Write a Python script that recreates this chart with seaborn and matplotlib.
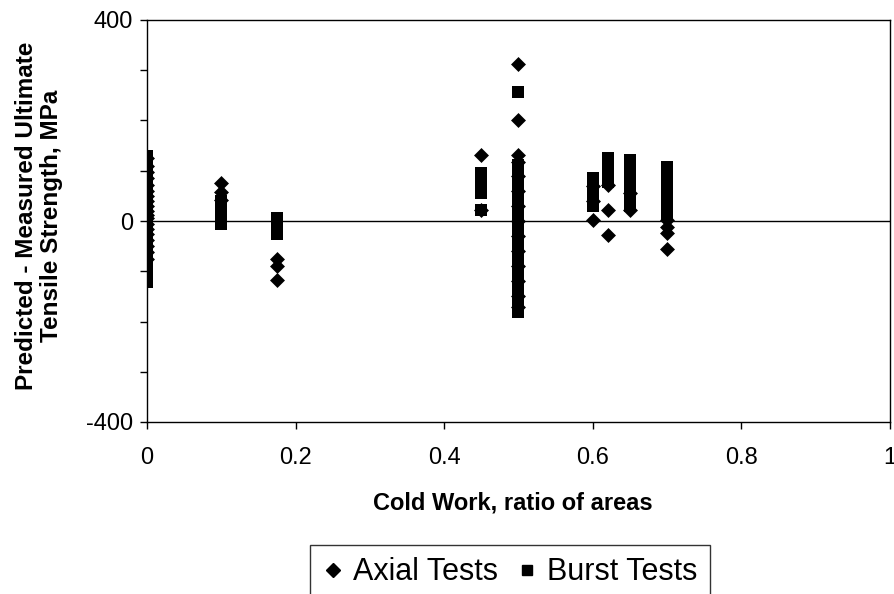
import numpy as np
import pandas as pd
import matplotlib
matplotlib.use("Agg")
import matplotlib.pyplot as plt
import seaborn as sns
from matplotlib.ticker import FixedLocator, MultipleLocator
from matplotlib.lines import Line2D

# ---- data ----
axial_x = ([0.0] * 19 + [0.1] * 3 + [0.175] * 3 + [0.45] * 2 + [0.5] * 14
           + [0.6] * 3 + [0.62] * 3 + [0.65] * 2 + [0.7] * 4)
axial_y = ([125, 110, 98, 85, 72, 60, 50, 40, 30, 20, 12, 5, -5, -15, -25, -38, -50, -62, -75]
           + [75, 58, 42]
           + [-75, -90, -118]
           + [132, 22]
           + [312, 200, 131, 118, 90, 60, 30, 0, -30, -60, -90, -120, -150, -172]
           + [70, 40, 2]
           + [72, 22, -28]
           + [55, 22]
           + [2, -12, -24, -55])

burst_x = ([0.0] * 26 + [0.1] * 6 + [0.175] * 4 + [0.45] * 5 + [0.5] * 30
           + [0.6] * 5 + [0.62] * 5 + [0.65] * 9 + [0.7] * 8)
burst_y = ([130, 120, 110, 100, 90, 80, 68, 56, 45, 35, 25, 15, 8, 0, -10, -20, -30, -42,
            -55, -68, -80, -92, -100, -108, -115, -122]
           + [40, 30, 20, 10, 0, -5]
           + [5, -5, -15, -25]
           + [95, 82, 68, 55, 22]
           + [256, 112, 100, 90, 80, 70, 60, 50, 40, 30, 20, 10, 0, -10, -20, -30, -40, -50,
              -60, -70, -80, -90, -100, -110, -120, -130, -140, -155, -168, -181]
           + [85, 72, 58, 45, 30]
           + [125, 112, 100, 88, 78]
           + [122, 110, 98, 86, 74, 62, 50, 40, 30]
           + [108, 95, 82, 70, 58, 48, 25, 10])

series_names = ["Axial Tests", "Burst Tests"]
x_ticks = [0, 0.2, 0.4, 0.6, 0.8, 1]
x_tick_labels = ["0", "0.2", "0.4", "0.6", "0.8", "1"]
y_ticks = [-400, 0, 400]
y_tick_labels = ["-400", "0", "400"]

axial_df = pd.DataFrame({"x": axial_x, "y": axial_y})
burst_df = pd.DataFrame({"x": burst_x, "y": burst_y})

sns.set_style("white")
plt.rcParams["font.family"] = ["Liberation Sans", "DejaVu Sans"]
plt.rcParams["text.color"] = "black"
plt.rcParams["axes.labelcolor"] = "black"
plt.rcParams["xtick.color"] = "black"
plt.rcParams["ytick.color"] = "black"

fig = plt.figure(figsize=(8.95, 5.94), dpi=100)
ax = fig.add_axes([147 / 895, 1 - 422 / 594, (890 - 147) / 895, (422 - 20) / 594])

ax.axhline(0, color="black", lw=1, zorder=1)

sns.scatterplot(data=burst_df, x="x", y="y", marker="s", color="black", s=72,
                linewidth=0, ax=ax, zorder=3)
sns.scatterplot(data=axial_df, x="x", y="y", marker="D", color="black", s=58,
                linewidth=0, ax=ax, zorder=4)

ax.set_xlim(0, 1)
ax.set_ylim(-400, 400)
ax.set_xticks(x_ticks)
ax.set_xticklabels(x_tick_labels)
ax.yaxis.set_major_locator(FixedLocator(y_ticks))
ax.set_yticklabels(y_tick_labels)
ax.yaxis.set_minor_locator(MultipleLocator(100))
ax.tick_params(axis="both", which="both", direction="out", length=5, width=1,
               color="black", labelcolor="black", labelsize=17)
ax.tick_params(axis="y", which="major", pad=5)
ax.tick_params(axis="x", which="major", pad=13)
ax.tick_params(bottom=True, left=True)
ax.tick_params(axis="y", which="minor", left=True)

for sp in ax.spines.values():
    sp.set_color("black")
    sp.set_linewidth(1)
    sp.set_visible(True)

ax.set_xlabel("")
ax.set_ylabel("")
fig.text(513 / 895, 1 - 503 / 594, "Cold Work, ratio of areas", fontsize=17,
         fontweight="bold", ha="center", va="center", color="black")
fig.text(39 / 895, 1 - 216 / 594, "Predicted - Measured Ultimate\nTensile Strength, MPa",
         fontsize=17.5, fontweight="bold", ha="center", va="center", rotation=90,
         multialignment="center", linespacing=1.15, color="black")

handles = [Line2D([], [], marker="D", color="black", ls="none", markersize=7.5),
           Line2D([], [], marker="s", color="black", ls="none", markersize=6.5)]
leg = fig.legend(handles, series_names, loc="upper center",
                 bbox_to_anchor=(510 / 895, 1 - 545 / 594), ncol=2, frameon=True,
                 fancybox=False, edgecolor="black", fontsize=22, handletextpad=0.3,
                 columnspacing=0.6, handlelength=0.7, borderpad=0.4, borderaxespad=0)
leg.get_frame().set_linewidth(1)
for t in leg.get_texts():
    t.set_color("black")

fig.savefig("out.png", dpi=100)
